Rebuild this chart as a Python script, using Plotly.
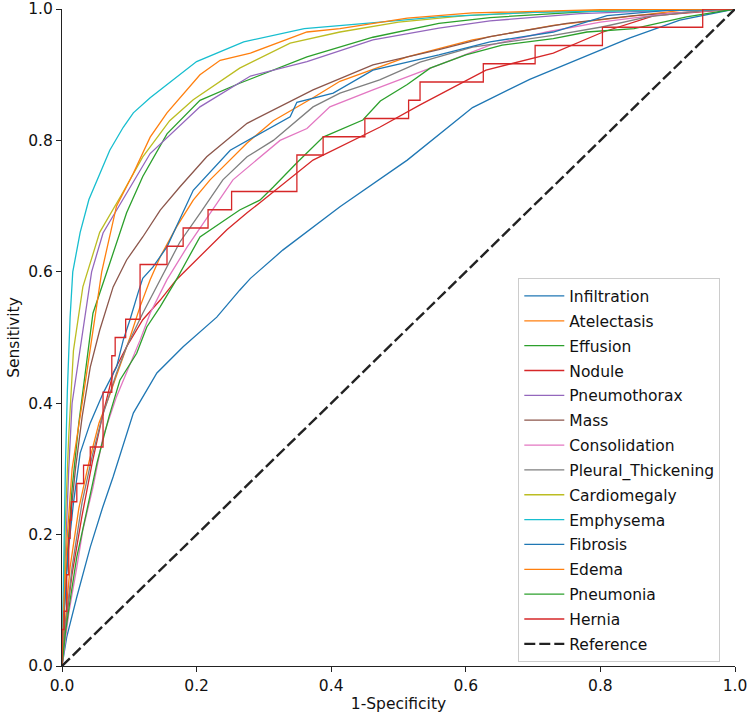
import plotly.graph_objects as go

labels = ["Infiltration", "Atelectasis", "Effusion", "Nodule", "Pneumothorax", "Mass",
          "Consolidation", "Pleural_Thickening", "Cardiomegaly", "Emphysema", "Fibrosis",
          "Edema", "Pneumonia", "Hernia"]

colors = ["#1f77b4", "#ff7f0e", "#2ca02c", "#d62728", "#9467bd", "#8c564b", "#e377c2",
          "#7f7f7f", "#bcbd22", "#17becf", "#1f77b4", "#ff7f0e", "#2ca02c", "#d62728"]

infiltration_fpr = [0, 0.007, 0.022, 0.042, 0.06, 0.076, 0.106, 0.141, 0.18, 0.23, 0.264, 0.28, 0.328, 0.413, 0.513, 0.61, 0.695, 0.77, 0.844, 0.918, 1.0]
infiltration_tpr = [0, 0.044, 0.105, 0.181, 0.24, 0.288, 0.385, 0.446, 0.486, 0.531, 0.572, 0.59, 0.633, 0.699, 0.77, 0.85, 0.893, 0.925, 0.956, 0.983, 1.0]

atelectasis_fpr = [0, 0.005, 0.012, 0.025, 0.04, 0.055, 0.07, 0.086, 0.101, 0.116, 0.131, 0.146, 0.17, 0.195, 0.22, 0.275, 0.314, 0.373, 0.413, 0.513, 0.61, 0.73, 0.85, 0.92, 1.0]
atelectasis_tpr = [0, 0.07, 0.15, 0.24, 0.31, 0.37, 0.41, 0.455, 0.5, 0.547, 0.588, 0.623, 0.668, 0.709, 0.74, 0.796, 0.83, 0.865, 0.89, 0.927, 0.953, 0.975, 0.99, 0.998, 1.0]

effusion_fpr = [0, 0.003, 0.008, 0.015, 0.025, 0.037, 0.046, 0.071, 0.096, 0.12, 0.156, 0.205, 0.264, 0.364, 0.462, 0.56, 0.636, 0.8, 1.0]
effusion_tpr = [0, 0.08, 0.17, 0.27, 0.37, 0.461, 0.537, 0.613, 0.69, 0.745, 0.81, 0.861, 0.887, 0.927, 0.957, 0.978, 0.987, 0.997, 1.0]

nodule_fpr = [0, 0.005, 0.015, 0.03, 0.045, 0.06, 0.076, 0.096, 0.12, 0.146, 0.17, 0.205, 0.245, 0.275, 0.294, 0.373, 0.472, 0.532, 0.63, 0.73, 0.804, 0.88, 1.0]
nodule_tpr = [0, 0.06, 0.14, 0.23, 0.31, 0.38, 0.446, 0.486, 0.527, 0.557, 0.588, 0.623, 0.664, 0.69, 0.705, 0.77, 0.82, 0.854, 0.907, 0.933, 0.965, 0.99, 1.0]

pneumothorax_fpr = [0, 0.003, 0.007, 0.01, 0.015, 0.027, 0.044, 0.061, 0.096, 0.131, 0.205, 0.28, 0.364, 0.462, 0.56, 0.636, 0.77, 0.9, 1.0]
pneumothorax_tpr = [0, 0.12, 0.22, 0.3, 0.4, 0.48, 0.6, 0.659, 0.72, 0.78, 0.851, 0.898, 0.92, 0.953, 0.971, 0.982, 0.993, 0.998, 1.0]

mass_fpr = [0, 0.005, 0.012, 0.02, 0.03, 0.042, 0.056, 0.076, 0.096, 0.12, 0.146, 0.175, 0.215, 0.275, 0.373, 0.462, 0.56, 0.636, 0.75, 0.85, 1.0]
mass_tpr = [0, 0.12, 0.22, 0.3, 0.38, 0.455, 0.511, 0.577, 0.618, 0.653, 0.694, 0.729, 0.775, 0.826, 0.877, 0.915, 0.938, 0.958, 0.978, 0.99, 1.0]

consolidation_fpr = [0, 0.005, 0.01, 0.022, 0.031, 0.046, 0.061, 0.081, 0.096, 0.116, 0.131, 0.156, 0.186, 0.22, 0.254, 0.324, 0.364, 0.398, 0.462, 0.56, 0.636, 0.72, 0.8, 0.9, 1.0]
consolidation_tpr = [0, 0.04, 0.08, 0.15, 0.207, 0.272, 0.349, 0.41, 0.446, 0.496, 0.537, 0.588, 0.638, 0.689, 0.74, 0.8, 0.818, 0.851, 0.877, 0.915, 0.945, 0.965, 0.98, 0.993, 1.0]

pleural_fpr = [0, 0.005, 0.015, 0.03, 0.045, 0.06, 0.081, 0.096, 0.12, 0.146, 0.175, 0.205, 0.239, 0.275, 0.314, 0.373, 0.413, 0.472, 0.532, 0.61, 0.73, 0.804, 0.87, 0.95, 1.0]
pleural_tpr = [0, 0.06, 0.15, 0.25, 0.32, 0.38, 0.446, 0.486, 0.537, 0.588, 0.645, 0.689, 0.74, 0.775, 0.8, 0.851, 0.872, 0.892, 0.919, 0.942, 0.96, 0.973, 0.988, 0.997, 1.0]

cardiomegaly_fpr = [0, 0.002, 0.005, 0.01, 0.017, 0.031, 0.056, 0.09, 0.12, 0.16, 0.195, 0.264, 0.339, 0.413, 0.5, 0.6, 0.75, 1.0]
cardiomegaly_tpr = [0, 0.1, 0.22, 0.35, 0.48, 0.577, 0.66, 0.72, 0.775, 0.83, 0.862, 0.91, 0.948, 0.965, 0.98, 0.99, 0.997, 1.0]

emphysema_fpr = [0, 0.002, 0.005, 0.008, 0.012, 0.016, 0.027, 0.04, 0.056, 0.071, 0.091, 0.106, 0.131, 0.2, 0.27, 0.36, 0.46, 0.56, 0.7, 0.85, 1.0]
emphysema_tpr = [0, 0.15, 0.3, 0.42, 0.53, 0.6, 0.66, 0.71, 0.75, 0.785, 0.82, 0.842, 0.865, 0.92, 0.95, 0.97, 0.979, 0.988, 0.995, 0.998, 1.0]

fibrosis_fpr = [0, 0.003, 0.009, 0.017, 0.027, 0.042, 0.061, 0.081, 0.091, 0.101, 0.113, 0.12, 0.135, 0.156, 0.175, 0.195, 0.25, 0.339, 0.349, 0.403, 0.462, 0.56, 0.636, 0.73, 0.81, 0.9, 1.0]
fibrosis_tpr = [0, 0.08, 0.172, 0.248, 0.324, 0.37, 0.415, 0.455, 0.496, 0.527, 0.568, 0.59, 0.607, 0.638, 0.68, 0.724, 0.785, 0.836, 0.858, 0.872, 0.907, 0.93, 0.95, 0.965, 0.99, 0.998, 1.0]

edema_fpr = [0, 0.003, 0.008, 0.015, 0.03, 0.042, 0.059, 0.081, 0.106, 0.131, 0.156, 0.205, 0.235, 0.28, 0.364, 0.413, 0.513, 0.61, 0.8, 1.0]
edema_tpr = [0, 0.1, 0.2, 0.3, 0.4, 0.48, 0.6, 0.7, 0.75, 0.805, 0.842, 0.9, 0.922, 0.933, 0.965, 0.97, 0.986, 0.994, 0.999, 1.0]

pneumonia_fpr = [0, 0.005, 0.012, 0.022, 0.037, 0.052, 0.07, 0.086, 0.111, 0.126, 0.146, 0.17, 0.186, 0.205, 0.235, 0.264, 0.294, 0.314, 0.349, 0.388, 0.447, 0.473, 0.513, 0.547, 0.6, 0.654, 0.73, 0.78, 0.85, 0.928, 1.0]
pneumonia_tpr = [0, 0.05, 0.1, 0.166, 0.237, 0.309, 0.38, 0.435, 0.476, 0.516, 0.547, 0.588, 0.618, 0.653, 0.674, 0.694, 0.709, 0.729, 0.766, 0.805, 0.831, 0.86, 0.885, 0.91, 0.93, 0.945, 0.955, 0.965, 0.97, 0.988, 1.0]

# Hernia: step ROC corners (36 positives)
hernia_fpr = [0, 0, 0.003, 0.003, 0.007, 0.007, 0.010, 0.010, 0.012, 0.012, 0.014, 0.014,
              0.022, 0.022, 0.032, 0.032, 0.042, 0.042, 0.061, 0.061, 0.074, 0.074, 0.079, 0.079,
              0.0946, 0.0946, 0.116, 0.116, 0.156, 0.156, 0.180, 0.180, 0.217, 0.217, 0.252, 0.252,
              0.349, 0.349, 0.388, 0.388, 0.450, 0.450, 0.515, 0.515, 0.532, 0.532, 0.626, 0.626,
              0.703, 0.703, 0.803, 0.803, 0.952, 0.952, 1.0]
hernia_tpr_k = [0, 2, 2, 3, 3, 5, 5, 7, 7, 8, 8, 9,
                9, 10, 10, 11, 11, 12, 12, 15, 15, 17, 17, 18,
                18, 19, 19, 22, 22, 23, 23, 24, 24, 25, 25, 26,
                26, 28, 28, 29, 29, 30, 30, 31, 31, 32, 32, 33,
                33, 34, 34, 35, 35, 36, 36]
hernia_positives = 36
hernia_tpr = [k / hernia_positives for k in hernia_tpr_k]

reference_x = [0, 1]
reference_y = [0, 1]

curves = [
    (infiltration_fpr, infiltration_tpr), (atelectasis_fpr, atelectasis_tpr),
    (effusion_fpr, effusion_tpr), (nodule_fpr, nodule_tpr),
    (pneumothorax_fpr, pneumothorax_tpr), (mass_fpr, mass_tpr),
    (consolidation_fpr, consolidation_tpr), (pleural_fpr, pleural_tpr),
    (cardiomegaly_fpr, cardiomegaly_tpr), (emphysema_fpr, emphysema_tpr),
    (fibrosis_fpr, fibrosis_tpr), (edema_fpr, edema_tpr),
    (pneumonia_fpr, pneumonia_tpr), (hernia_fpr, hernia_tpr),
]

fig = go.Figure()
for i, (name, color, (fx, ty)) in enumerate(zip(labels, colors, curves)):
    fig.add_trace(go.Scatter(x=fx, y=ty, mode="lines", name=name, legendgroup=f"g{i}",
                             line=dict(color=color, width=1.3)))

fig.add_trace(go.Scatter(x=reference_x, y=reference_y, mode="lines", name="Reference",
                         legendgroup="gref",
                         line=dict(color="#222222", width=2.4, dash="11px,4px")))

axis_common = dict(range=[0, 1], showgrid=False, zeroline=False, showline=True,
                   linecolor="#222222", linewidth=1, ticks="outside", ticklen=5,
                   tickcolor="#222222", tickvals=[0, 0.2, 0.4, 0.6, 0.8, 1.0],
                   tickformat=".1f", tickfont=dict(size=15.5), mirror=False,
                   automargin=False)

fig.update_layout(
    width=749, height=719,
    margin=dict(l=62, r=14, t=9, b=53),
    plot_bgcolor="white", paper_bgcolor="white",
    font=dict(family="DejaVu Sans", size=15.5, color="#111111"),
    xaxis=dict(axis_common, title=dict(text="1-Specificity", standoff=4, font=dict(size=15.5))),
    yaxis=dict(axis_common, title=dict(text="Sensitivity", standoff=4, font=dict(size=15.5))),
    legend=dict(x=0.678, y=0.59, xanchor="left", yanchor="top",
                bgcolor="rgba(255,255,255,0.8)", bordercolor="#cccccc", borderwidth=1,
                font=dict(size=15.5), tracegroupgap=1.7, traceorder="grouped",
                itemwidth=40, entrywidth=214, entrywidthmode="pixels"),
    showlegend=True,
)

fig.write_html("out.html", config={"displayModeBar": False},
               post_script="document.body.style.margin='0px';")
